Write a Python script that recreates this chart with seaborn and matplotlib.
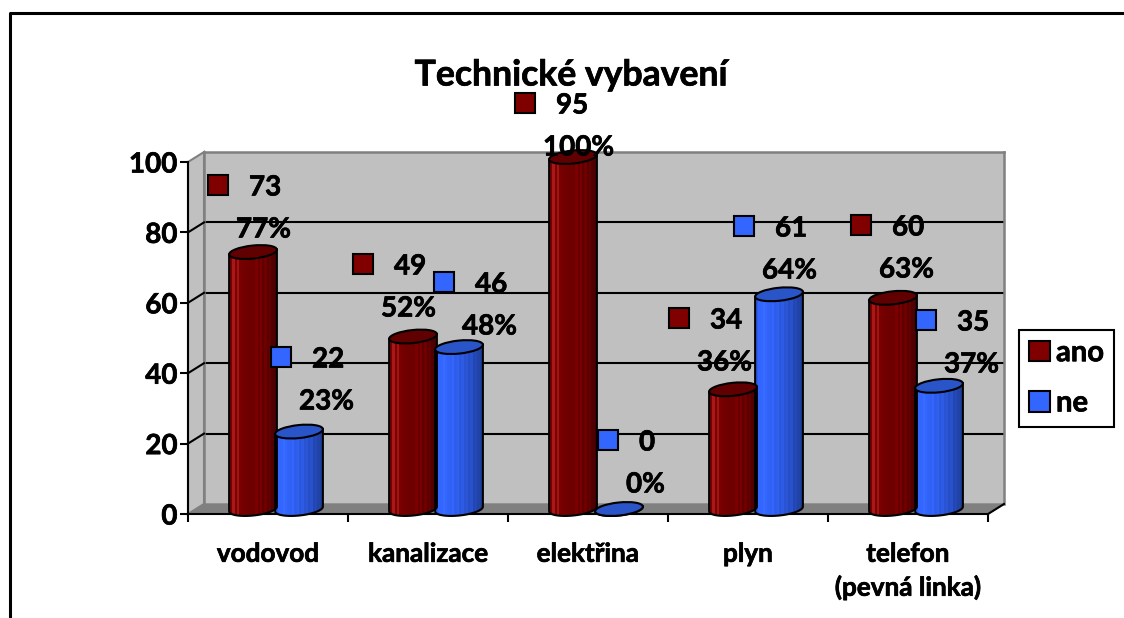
import numpy as np
import pandas as pd
import seaborn as sns
from matplotlib import pyplot as plt
from matplotlib import patheffects
from matplotlib.lines import Line2D
from matplotlib.patches import Ellipse, Patch, Polygon, PathPatch, Rectangle
from matplotlib.path import Path
from matplotlib.text import Text
from matplotlib.transforms import IdentityTransform

W, H = 1124, 618

categories = ["vodovod", "kanalizace", "elektřina", "plyn", "telefon\n(pevná linka)"]
answers = ["ano", "ne"]
ano_heights = [73, 49, 100, 34, 60]
ne_heights = [22, 46, 0, 61, 35]
ano_counts = [73, 49, 95, 34, 60]
ne_counts = [22, 46, 0, 61, 35]
ano_pct = [77, 52, 100, 36, 63]
ne_pct = [23, 48, 0, 64, 37]
y_ticks = [0, 20, 40, 60, 80, 100]

# where the data labels were dragged to in the original (marker centre, px)
ano_label_pos = [(218, 185), (363, 264), (525, 103), (679, 318), (861, 225)]
ne_label_pos = [(281, 357), (444, 282), (608, 440), (744, 226), (926, 320)]

RED = "#800000"
BLUE = "#3366FF"
# brightness across the cylinder, hand picked, left to right
shade_red = [0.95, 1.12, 0.98, 1.1, 0.94, 0.92, 0.9, 0.88, 0.87, 0.87, 0.85, 0.98, 0.8, 0.95, 0.74, 0.88, 0.68, 0.8, 0.62, 0.6]
shade_blue = [0.9, 1.0, 1.0, 1.02, 1.0, 0.98, 0.96, 1.0, 0.92, 0.95, 0.86, 0.9, 0.82, 0.85, 0.76, 0.8, 0.7, 0.72, 0.66, 0.62]

sns.set_theme(style="white")
plt.rcParams["font.family"] = ["Lato", "DejaVu Sans"]
plt.rcParams["font.weight"] = "bold"
plt.rcParams["axes.labelweight"] = "bold"


def box(x0, y0, x1, y1):
    return [x0 / W, 1 - y1 / H, (x1 - x0) / W, (y1 - y0) / H]


def fp(x, y):
    return (x / W, 1 - y / H)


def fig_line(xs, ys, color="black", lw=1.5, z=3):
    fig.add_artist(Line2D([x / W for x in xs], [1 - y / H for y in ys], color=color, lw=lw, zorder=z,
                          solid_capstyle="projecting"))


fig = plt.figure(figsize=(W / 100, H / 100), dpi=100, facecolor="white")

# outer frame, only top and left are in the crop
fig_line([9.5, 9.5, W + 5], [H + 5, 12.5, 12.5], lw=2.2)

# back wall
ax_wall = fig.add_axes(box(204, 152, 1004, 504), zorder=0, facecolor="#C0C0C0")
ax_wall.set_xlim(0, 1)
ax_wall.set_ylim(0, 100)
ax_wall.set_xticks([])
ax_wall.set_yticks(y_ticks[1:-1], [""] * 4)
ax_wall.tick_params(length=0)
ax_wall.grid(axis="y", color="black", lw=1.5)
for s in ax_wall.spines.values():
    s.set_color("#808080")
    s.set_linewidth(1.8)
ax_wall.spines["bottom"].set_visible(False)

# side wall + floor
fig.add_artist(Polygon([fp(188, 162), fp(204, 152), fp(204, 504), fp(188, 514)], closed=True, transform=fig.transFigure,
                       facecolor="#C0C0C0", edgecolor="#808080", lw=1.5, zorder=1))
fig.add_artist(Polygon([fp(188, 514), fp(204, 504), fp(1004, 504), fp(988, 514)], closed=True, transform=fig.transFigure,
                       facecolor="#808080", edgecolor="#808080", lw=1, zorder=1))

# front axis
ax = fig.add_axes(box(188, 162, 988, 514), zorder=2, facecolor="none")
ax.set_xlim(-0.5, 4.5)
ax.set_ylim(0, 100)
ax.set_yticks(y_ticks)
ax.set_xticks(range(5), categories, fontsize=18.8, fontweight="bold", linespacing=1.42, color="black")
ax.set_xticks(np.arange(-0.5, 5), minor=True)
ax.tick_params(axis="x", which="major", length=0, pad=20, colors="black")
ax.tick_params(axis="x", which="minor", length=6, width=1.5, color="black", bottom=True)
ax.tick_params(axis="y", length=5.5, width=1.5, left=True, color="black", labelsize=20, pad=2, labelcolor="black")
for t in ax.get_yticklabels():
    t.set_fontweight("bold")
sns.despine(ax=ax)
for side in ["left", "bottom"]:
    ax.spines[side].set_color("black")
    ax.spines[side].set_linewidth(1.5)

# slanted bits joining the ticks to the wall grid
for v in y_ticks[1:-1]:
    y = 514 - v * 3.52
    fig_line([188, 204], [y, y - 10])
fig_line([988, 1004], [514, 504])

# cylinders
df = pd.DataFrame({
    "kategorie": categories * 2,
    "odpoved": ["ano"] * 5 + ["ne"] * 5,
    "hodnota": ano_heights + ne_heights,
})
ax_bars = fig.add_axes(box(196, 157, 996, 509), zorder=5, facecolor="none")
sns.barplot(data=df, x="kategorie", y="hodnota", hue="odpoved", hue_order=answers, palette=[RED, BLUE],
            width=0.575, gap=0, saturation=1, legend=False, ax=ax_bars)
ax_bars.set_xlim(-0.5, 4.5)
ax_bars.set_ylim(0, 100)
ax_bars.set_axis_off()

tilt = np.deg2rad(6)
ell_h = 13


def half_ellipse(cx, cy, a, b):
    t = np.linspace(np.pi, 2 * np.pi, 40)
    x = cx + a * np.cos(t) * np.cos(tilt) - b * np.sin(t) * np.sin(tilt)
    y = cy + a * np.cos(t) * np.sin(tilt) + b * np.sin(t) * np.cos(tilt)
    return np.column_stack([x, y])


for i, p in enumerate(list(ax_bars.patches)):
    is_ano = i < 5
    base_rgb = np.array([128, 0, 0]) if is_ano else np.array([51, 102, 255])
    shade = np.array(shade_red if is_ano else shade_blue)
    rgb = np.clip(base_rgb[None, :] * shade[:, None] + (shade[:, None] > 1) * 200 * (shade[:, None] - 1), 0, 255) / 255
    x0, x1 = p.get_x(), p.get_x() + p.get_width()
    h = p.get_height()
    p.set_edgecolor("none")

    (dx0, dbase), (dx1, dtop) = ax_bars.transData.transform([(x0, 0), (x1, h)])
    cx = (dx0 + dx1) / 2
    a = (dx1 - dx0) / 2 + 1
    low = half_ellipse(cx, dbase, a, ell_h / 2)
    top_r = (cx + a * np.cos(tilt), dtop + a * np.sin(tilt))
    top_l = (cx - a * np.cos(tilt), dtop - a * np.sin(tilt))
    outline = np.vstack([low, top_r, top_l, low[0]])

    im = ax_bars.imshow(rgb[None, :, :], extent=(x0, x1, -4, h + 4), aspect="auto", interpolation="nearest", zorder=3)
    im.set_clip_path(Path(outline), IdentityTransform())
    im.set_clip_box(fig.bbox)

    ax_bars.add_patch(PathPatch(Path(outline), transform=IdentityTransform(), facecolor="none", edgecolor="black",
                                lw=1.5, zorder=4, clip_on=False))
    ax_bars.add_patch(Ellipse((cx, dtop), 2 * a, ell_h, angle=6, transform=IdentityTransform(),
                              facecolor="#600000" if is_ano else "#2A55C8", edgecolor="black", lw=1.5,
                              zorder=5, clip_on=False))
ax_bars.set_xlim(-0.5, 4.5)
ax_bars.set_ylim(0, 100)

# data labels: square, count, percent
for positions, counts, pcts, col in [(ano_label_pos, ano_counts, ano_pct, RED), (ne_label_pos, ne_counts, ne_pct, BLUE)]:
    for (mx, my), n, pc in zip(positions, counts, pcts):
        fig.add_artist(Rectangle(fp(mx - 10, my + 10), 20 / W, 20 / H, transform=fig.transFigure, facecolor=col,
                                 edgecolor="black", lw=1.5, zorder=10))
        fig.text((mx + 31) / W, 1 - my / H, str(n), fontsize=20, fontweight="bold", color="black",
                 ha="left", va="center_baseline", zorder=11)
        fig.text((mx + 18) / W, 1 - (my + 42) / H, f"{pc}%", fontsize=20, fontweight="bold", color="black",
                 ha="left", va="center_baseline", zorder=11)

fig.text(571 / W, 1 - 72 / H, "Technické vybavení", fontsize=25.6, fontweight="bold", color="black",
         ha="center", va="center_baseline", zorder=11)

handles = [Patch(facecolor=RED, edgecolor="black", lw=1.5), Patch(facecolor=BLUE, edgecolor="black", lw=1.5)]
leg = fig.legend(handles, answers, loc="upper left", bbox_to_anchor=(1019 / W, 1 - 330 / H), borderaxespad=0,
                 frameon=True, fancybox=False, framealpha=1, edgecolor="black", labelcolor="black",
                 handlelength=0.72, handleheight=0.72, handletextpad=0.2, labelspacing=0.83, borderpad=0.35,
                 prop={"weight": "bold", "size": 21})
leg.get_frame().set_linewidth(1.5)
leg.set_zorder(12)

# Lato bold is a touch lighter than the original face
for t in fig.findobj(Text):
    t.set_path_effects([patheffects.withStroke(linewidth=0.5, foreground="black")])

fig.savefig("out.png", dpi=100)
